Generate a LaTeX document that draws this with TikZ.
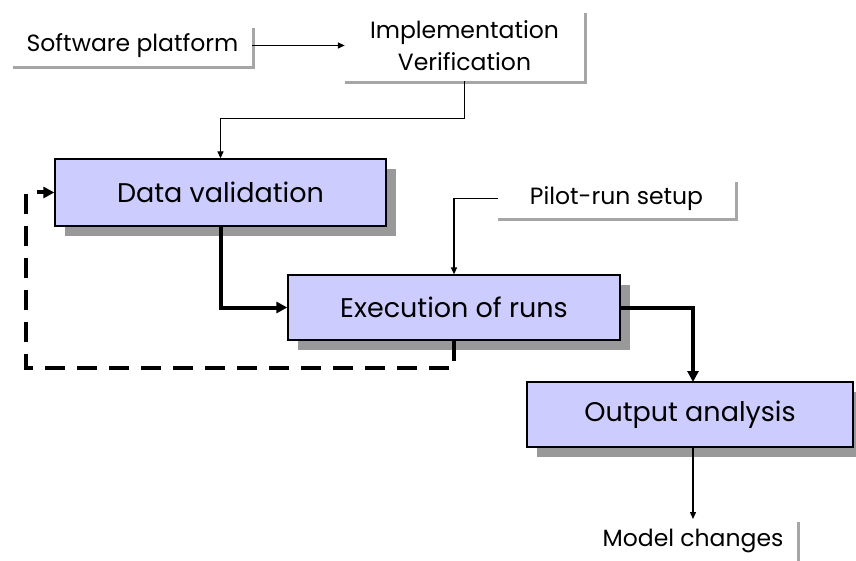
\documentclass[tikz,border=0pt]{standalone}
\usepackage{fontspec}
\setmainfont{Poppins}
\usetikzlibrary{arrows.meta,positioning,calc}
\definecolor{boxfill}{HTML}{CCCCFF}
\definecolor{shadowgray}{HTML}{999999}
\definecolor{lightshadow}{HTML}{A6A6A6}
\tikzset{
  mainbox/.style={draw=black,line width=1.3pt,fill=boxfill,inner sep=0pt,
    font=\fontsize{27}{32}\selectfont,align=center},
  labelbox/.style={fill=white,inner sep=0pt,font=\fontsize{23.5}{32}\selectfont,align=center},
  thinarrow/.style={line width=1.3pt,-{Triangle[length=7pt,width=6pt]}},
  thickarrow/.style={line width=4pt,-{Triangle[length=11pt,width=11pt]}},
  feedback/.style={line width=4pt,dash pattern=on 20pt off 12pt,-{Triangle[length=11pt,width=11pt]}},
}
\begin{document}
\begin{tikzpicture}[x=1pt,y=-1pt]
\useasboundingbox (0,0) rectangle (856,561);
\begin{scope}
\clip (0,0) rectangle (856,561);
% shadows of the plain label boxes
\fill[lightshadow] (13,28) rectangle (255,69);
\fill[lightshadow] (345,13) rectangle (587,84);
\fill[lightshadow] (498,182) rectangle (738,221);
\fill[lightshadow] (589,522) rectangle (800,565);
% shadows of the process boxes
\fill[shadowgray] (65,169) rectangle (396,236);
\fill[shadowgray] (298,285) rectangle (630,350);
\fill[shadowgray] (537,392) rectangle (863,457);

\node[labelbox,minimum width=239pt,minimum height=41pt] (sw) at (132.5,45.5) {Software platform};
\node[labelbox,minimum width=239pt,minimum height=71pt] (impl) at (464.5,45.5) {Implementation\\Verification};
\node[labelbox,minimum width=237pt,minimum height=39pt] (pilot) at (616.5,198.5) {Pilot-run setup};
\node[labelbox,minimum width=208pt,minimum height=43pt] (mc) at (693,540.5) {Model changes};

\node[mainbox,minimum width=331pt,minimum height=67pt] (dv) at (220.5,192.5) {Data validation};
\node[mainbox,minimum width=332pt,minimum height=65pt] (ex) at (454,307.5) {Execution of runs};
\node[mainbox,minimum width=326pt,minimum height=65pt] (out) at (690,414.5) {Output analysis};

\coordinate (outin) at (693,382);
\coordinate (outdown) at (693,447);
\coordinate (mcin) at (693,519);

% thin connectors
\draw[thinarrow] (sw.east) -- (impl.west);
\draw[thinarrow] (impl.south) -- ++(0,37) -| (dv.north);
\draw[thinarrow] (pilot.west) -| (ex.north);
\draw[thinarrow] (outdown) -- (mcin);
% thick connectors
\draw[thickarrow] (dv.south) |- (ex.west);
\draw[thickarrow] (ex.east) -| (outin);
% feedback loop
\draw[feedback] (ex.south) -- ++(0,27) -| ($(dv.west)+(-28,0)$) -- (dv.west);
\end{scope}
\end{tikzpicture}
\end{document}
